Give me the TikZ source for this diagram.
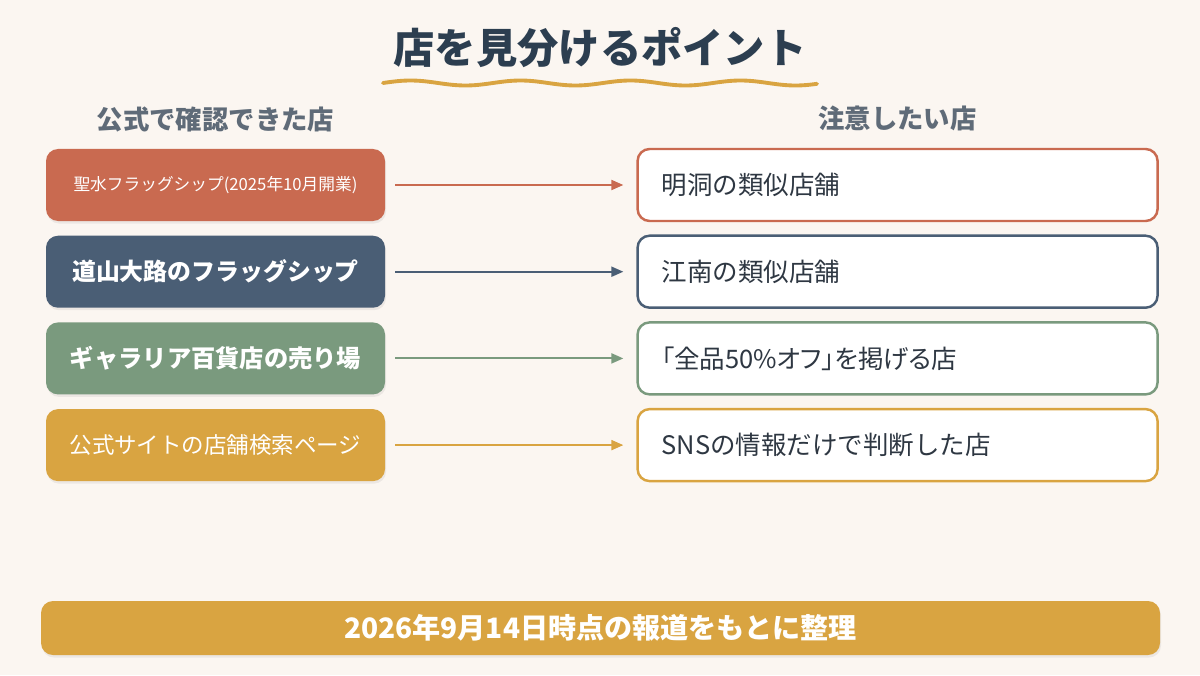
\documentclass[tikz,border=0pt]{standalone}
\usepackage{fontspec}
\setmainfont{Noto Sans CJK JP}
\usepackage{tikz}
\usetikzlibrary{positioning, arrows.meta, shadows}
\definecolor{bgcream}{HTML}{FBF6F1}
\definecolor{titlenavy}{HTML}{2C3E50}
\definecolor{headgray}{HTML}{5F6B78}
\definecolor{textdark}{HTML}{2E3742}
\definecolor{terracotta}{HTML}{C96A50}
\definecolor{slateblue}{HTML}{4A5E75}
\definecolor{sagegreen}{HTML}{7A9A7E}
\definecolor{mustard}{HTML}{D9A441}

\begin{document}
\begin{tikzpicture}[
    okbox/.style={rectangle, rounded corners=0.24cm, minimum width=6.78cm, minimum height=1.44cm, inner sep=0pt, text=white, drop shadow={shadow xshift=0.02cm, shadow yshift=-0.05cm, opacity=0.12}},
    warnbox/.style={rectangle, rounded corners=0.24cm, draw, line width=1.4pt, fill=white, minimum width=10.4cm, minimum height=1.44cm, text width=9.44cm, inner xsep=0.48cm, align=left, text=textdark, font=\fontsize{14.5}{17}\selectfont},
    colhead/.style={inner sep=0pt, text=headgray, font=\bfseries\fontsize{15}{18}\selectfont},
    link/.style={line width=1.1pt, -{Triangle[length=0.24cm, width=0.2cm]}}
  ]
    \useasboundingbox (0,0) rectangle (24,13.5);
    \fill[bgcream] (0,0) rectangle (24,13.5);

    % Title
    \node (title) at (12,12.54) [text=titlenavy, font=\bfseries\fontsize{23.5}{28}\selectfont] {店を見分けるポイント};
    \draw[mustard, line width=2.2pt, line cap=round] plot[domain=7.66:16.34, samples=120] (\x, {11.84 + 0.05*sin(360*(\x-7.66)/2.2)});

    % Official stores
    \node (ok1) [okbox, fill=terracotta, font=\fontsize{9.5}{11}\selectfont] at (4.31,9.8) {聖水フラッグシップ(2025年10月開業)};
    \node (ok2) [okbox, fill=slateblue, font=\bfseries\fontsize{13.6}{16}\selectfont, below=0.28cm of ok1] {道山大路のフラッグシップ};
    \node (ok3) [okbox, fill=sagegreen, font=\bfseries\fontsize{13.8}{16}\selectfont, below=0.28cm of ok2] {ギャラリア百貨店の売り場};
    \node (ok4) [okbox, fill=mustard, font=\fontsize{12.8}{15}\selectfont, below=0.28cm of ok3] {公式サイトの店舗検索ページ};
    \node (okhead) [colhead, above=0.32cm of ok1] {公式で確認できた店};

    % Stores to watch out for
    \node (ng1) [warnbox, draw=terracotta, right=5.02cm of ok1] {明洞の類似店舗};
    \node (ng2) [warnbox, draw=slateblue, right=5.02cm of ok2] {江南の類似店舗};
    \node (ng3) [warnbox, draw=sagegreen, right=5.02cm of ok3] {\addfontfeature{RawFeature=+palt}「全品50\%オフ」を掲げる店};
    \node (ng4) [warnbox, draw=mustard, right=5.02cm of ok4] {SNSの情報だけで判断した店};
    \node (nghead) [colhead, above=0.32cm of ng1] {注意したい店};

    \draw[link, terracotta] ([xshift=0.2cm]ok1.east) -- ([xshift=-0.26cm]ng1.west);
    \draw[link, slateblue] ([xshift=0.2cm]ok2.east) -- ([xshift=-0.26cm]ng2.west);
    \draw[link, sagegreen] ([xshift=0.2cm]ok3.east) -- ([xshift=-0.26cm]ng3.west);
    \draw[link, mustard] ([xshift=0.2cm]ok4.east) -- ([xshift=-0.26cm]ng4.west);

    % Footer
    \node (note) [rectangle, rounded corners=0.24cm, fill=mustard, minimum width=22.38cm, minimum height=1.08cm, text=white, font=\bfseries\fontsize{16}{19}\selectfont, drop shadow={shadow xshift=0.02cm, shadow yshift=-0.05cm, opacity=0.12}] at (12.01,0.94) {2026年9月14日時点の報道をもとに整理};
\end{tikzpicture}
\end{document}
